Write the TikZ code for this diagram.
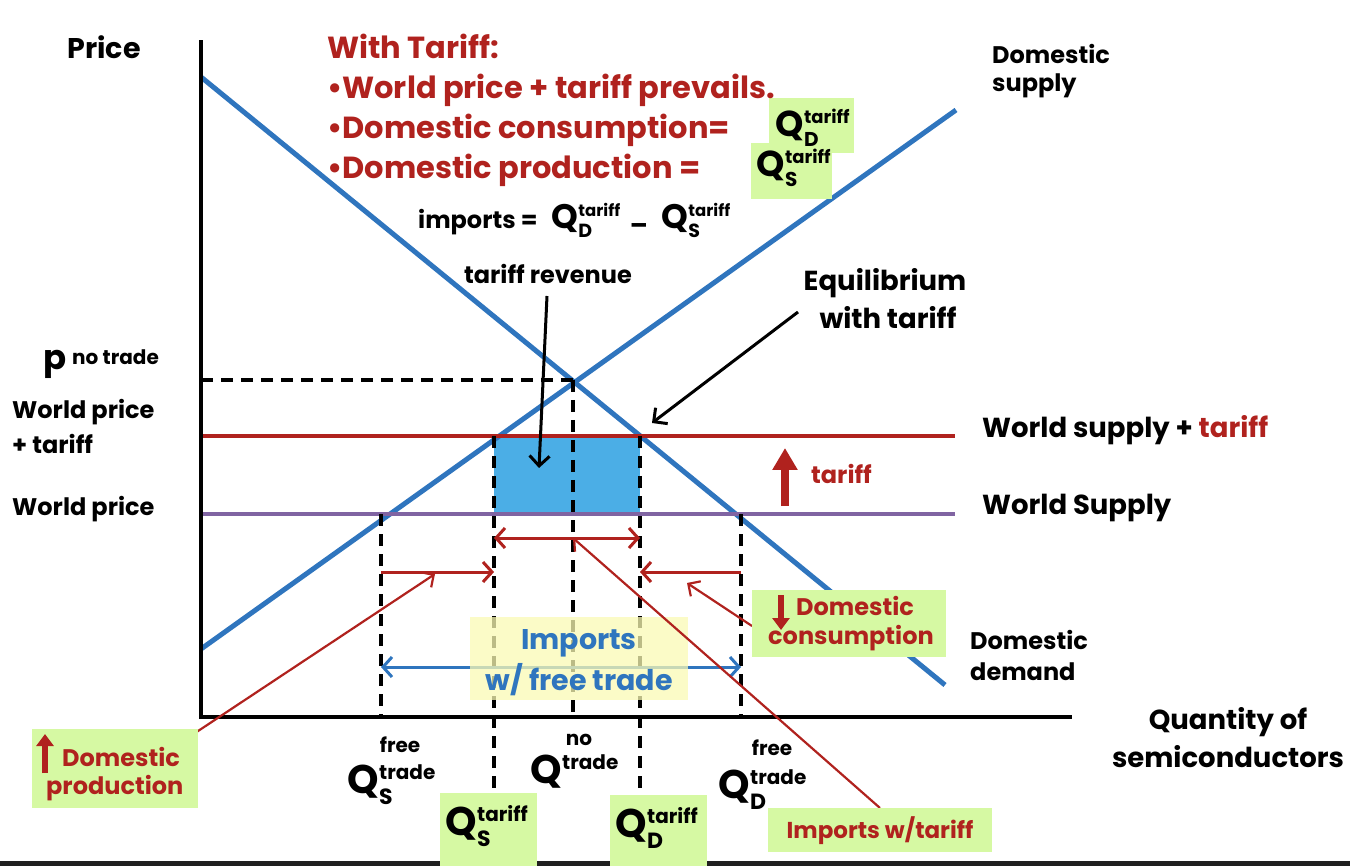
\documentclass[tikz,border=0pt]{standalone}
\usepackage{fontspec}
\setmainfont{Poppins}
\usetikzlibrary{arrows.meta}
\definecolor{lblue}{RGB}{47,117,190}
\definecolor{dred}{RGB}{176,34,30}
\definecolor{purp}{RGB}{128,100,162}
\definecolor{revbox}{RGB}{75,174,230}
\definecolor{gbox}{RGB}{214,249,163}
\definecolor{ybox}{RGB}{250,250,180}
% #1 Q size, #2 sup size, #3 sub size, #4 raise, #5 lower, #6 sup, #7 sub
\newcommand{\QQ}[7]{{\fontsize{#1}{#1}\selectfont Q}\kern0.5pt\rlap{\raisebox{#4}{\fontsize{#2}{#2}\selectfont #6}}\raisebox{#5}{\fontsize{#3}{#3}\selectfont #7}}
\newcommand{\Qbot}[2]{\QQ{40}{20}{22}{14pt}{-11pt}{#1}{#2}}
\newcommand{\Qtop}[2]{\QQ{36}{18}{20}{12.5pt}{-10pt}{#1}{#2}}
\newcommand{\Qeq}[2]{\QQ{34}{16.5}{19}{12pt}{-9pt}{#1}{#2}}
\tikzset{
  lbl/.style={font=\bfseries\fontsize{24}{28}\selectfont, inner sep=0pt},
  big/.style={font=\bfseries\fontsize{27.5}{30}\selectfont, inner sep=0pt},
  ttl/.style={font=\bfseries\fontsize{30.5}{32}\selectfont, inner sep=0pt, text=dred, anchor=base west},
  sm/.style={font=\bfseries\fontsize{20}{20}\selectfont, inner sep=0pt},
  qn/.style={font=\bfseries, inner sep=0pt},
  curve/.style={line width=5pt, lblue},
  dashln/.style={line width=3.5pt, dash pattern=on 12pt off 8pt},
  redarr/.style={line width=3pt, dred, arrows={-Straight Barb[length=9pt,width=20pt,line width=3pt]}},
  redarr2/.style={line width=3pt, dred, arrows={Straight Barb[length=9pt,width=20pt,line width=3pt]-Straight Barb[length=9pt,width=20pt,line width=3pt]}},
  annot/.style={line width=2.2pt, dred, arrows={-Straight Barb[length=9pt,width=18pt,line width=2.2pt]}},
  blackarr/.style={line width=3pt, black, arrows={-Straight Barb[length=10pt,width=20pt,line width=3pt]}},
  boxarr/.style={line width=6.5pt, dred, arrows={-Triangle[length=12pt,width=17pt]}},
  greenbox/.style={fill=gbox, draw=none},
}
\begin{document}
\begin{tikzpicture}[x=1pt,y=-1pt]
\useasboundingbox (0,0) rectangle (1350,866);
\fill[gray!25!black] (0,861) rectangle (1350,866);
% axes
\coordinate (O) at (201,717);
\coordinate (Ytop) at (201,42);
\coordinate (Xend) at (1070,717);
% supply and demand
\coordinate (D1) at (201,77);
\coordinate (D2) at (945,685);
\coordinate (S1) at (201,649);
\coordinate (S2) at (956,110);
% key points
\coordinate (E0) at (573,380);
\coordinate (QSf) at (381,514);
\coordinate (QDf) at (741,514);
\coordinate (QSt) at (494,436);
\coordinate (QDt) at (640,436);
% tariff revenue
\fill[revbox] (494,436) rectangle (640,514);
\draw[curve] (D1) -- (D2);
\draw[curve] (S1) -- (S2);
% world price lines
\draw[line width=4pt, purp] (201,514) -- (955,514);
\draw[line width=4pt, dred] (201,436) -- (955,436);
% dashed
\draw[dashln] (201,380) -- (E0);
\draw[dashln] (E0) -- (573,717);
\draw[dashln] (QSf) -- (381,717);
\draw[dashln] (QDf) -- (741,717);
\draw[dashln] (QSt) -- (494,792);
\draw[dashln] (QDt) -- (640,792);
% axes
\draw[line width=4pt, line cap=rect] (Ytop) -- (O) -- (Xend);
% red arrows
\draw[redarr2] (494,538) -- (640,538);
\draw[redarr] (381,572) -- (494,572);
\draw[redarr] (741,572) -- (640,572);
\draw[line width=3pt, lblue, arrows={Straight Barb[length=9pt,width=20pt,line width=3pt]-Straight Barb[length=9pt,width=20pt,line width=3pt]}] (381,667) -- (741,667);
% yellow box
\fill[ybox, opacity=0.75] (470,617) rectangle (688,700);
\node[lbl, text=lblue, font=\bfseries\fontsize{28.5}{30}\selectfont] (impft1) at (579,643) {Imports};
\node[lbl, text=lblue, font=\bfseries\fontsize{28.5}{30}\selectfont] (impft2) at (579,680) {w/ free trade};
% annotation lines
\coordinate (apr) at (435,574);
\coordinate (acons) at (687,583);
\coordinate (aimp) at (573,538);
\draw[annot] (183,741) -- (apr);
\draw[annot] (752,626) -- (acons);
\draw[annot] (880,808) -- (aimp);
% black arrows
\draw[blackarr] (798,312) -- (652,423);
\draw[blackarr] (547,296) -- (539,468);
% tariff up arrow
\draw[line width=8pt, dred, arrows={-Triangle[length=22pt,width=24pt]}] (785,506) -- (785,448);
\node[lbl, text=dred, anchor=west] (tarl) at (811,474) {tariff};
% green boxes
\fill[greenbox] (752,590) rectangle (946,657);
\fill[greenbox] (32,729) rectangle (198,808);
\fill[greenbox] (768,808) rectangle (992,852);
\fill[greenbox] (440,793) rectangle (537,866);
\fill[greenbox] (610,795) rectangle (707,866);
\fill[greenbox] (769,98) rectangle (854,153);
\fill[greenbox] (751,143) rectangle (832,199);
% down / up arrows in boxes
\draw[boxarr] (781,595) -- (781,630);
\draw[boxarr] (45,773) -- (45,734);
\node[lbl, text=dred, anchor=west] (dc1) at (796,606) {Domestic};
\node[lbl, text=dred, anchor=west] (dc2) at (768,638) {consumption};
\node[lbl, text=dred, anchor=west] (dp1) at (62,757) {Domestic};
\node[lbl, text=dred, anchor=west] (dp2) at (46,788) {production};
\node[lbl, text=dred, font=\bfseries\fontsize{23}{26}\selectfont] (impt) at (880,831) {Imports w/tariff};
% title
\node[ttl] (t1) at (327,59) {With Tariff:};
\node[ttl] (t2) at (327,99) {•World price + tariff prevails.};
\node[ttl] (t3) at (327,139) {•Domestic consumption=};
\node[ttl] (t4) at (327,179) {•Domestic production =};
\node[qn, anchor=west] (qdt1) at (775,128) {\Qtop{tariff}{D}};
\node[qn, anchor=west] (qst1) at (756,168) {\Qtop{tariff}{S}};
% labels
\node[lbl, font=\bfseries\fontsize{28.5}{30}\selectfont] (price) at (104,47) {Price};
\node[lbl, anchor=west] (ds1) at (992,54) {Domestic};
\node[lbl, anchor=west] (ds2) at (992,86) {supply};
\node[lbl, anchor=west] (imp) at (418,222) {imports =};
\node[qn, anchor=west] (iqd) at (551,220) {\Qeq{tariff}{D}};
\node[lbl, font=\bfseries\fontsize{26}{26}\selectfont] (minus) at (639,229) {–};
\node[qn, anchor=west] (iqs) at (661,220) {\Qeq{tariff}{S}};
\node[lbl] (trev) at (548,274) {tariff revenue};
\node[big] (eq1) at (885,283) {Equilibrium};
\node[big] (eq2) at (888,318) {with tariff};
\node[lbl, anchor=west, font=\bfseries\fontsize{34}{34}\selectfont] (pnt) at (43,364) {p};
\node[sm, anchor=west] (pnt2) at (72,357) {no trade};
\node[lbl, anchor=west] (wpt1) at (12,412) {World price};
\node[lbl, anchor=west] (wpt2) at (12,444) {+ tariff};
\node[lbl, anchor=west] (wp) at (12,509) {World price};
\node[big, anchor=west] (wst) at (982,430) {World supply + \textcolor{dred}{tariff}};
\node[big, anchor=west] (ws) at (982,508) {World Supply};
\node[lbl, anchor=west] (dd1) at (970,640) {Domestic};
\node[lbl, anchor=west] (dd2) at (970,672) {demand};
\node[big] (qs1) at (1228,722) {Quantity of};
\node[big] (qs2) at (1228,757) {semiconductors};
% axis Q labels
\node[sm] (free1) at (400,745) {free};
\node[qn, anchor=west] (qsf) at (347,785) {\Qbot{trade}{S}};
\node[sm] (no1) at (579,740) {no};
\node[qn, anchor=west] (qnt) at (530,775) {\Qbot{trade}{}};
\node[sm] (free2) at (772,748) {free};
\node[qn, anchor=west] (qdf) at (718,790) {\Qbot{trade}{D}};
\node[qn, anchor=west] (qstb) at (445,826) {\Qbot{tariff}{S}};
\node[qn, anchor=west] (qdtb) at (615,828) {\Qbot{tariff}{D}};
\end{tikzpicture}
\end{document}
